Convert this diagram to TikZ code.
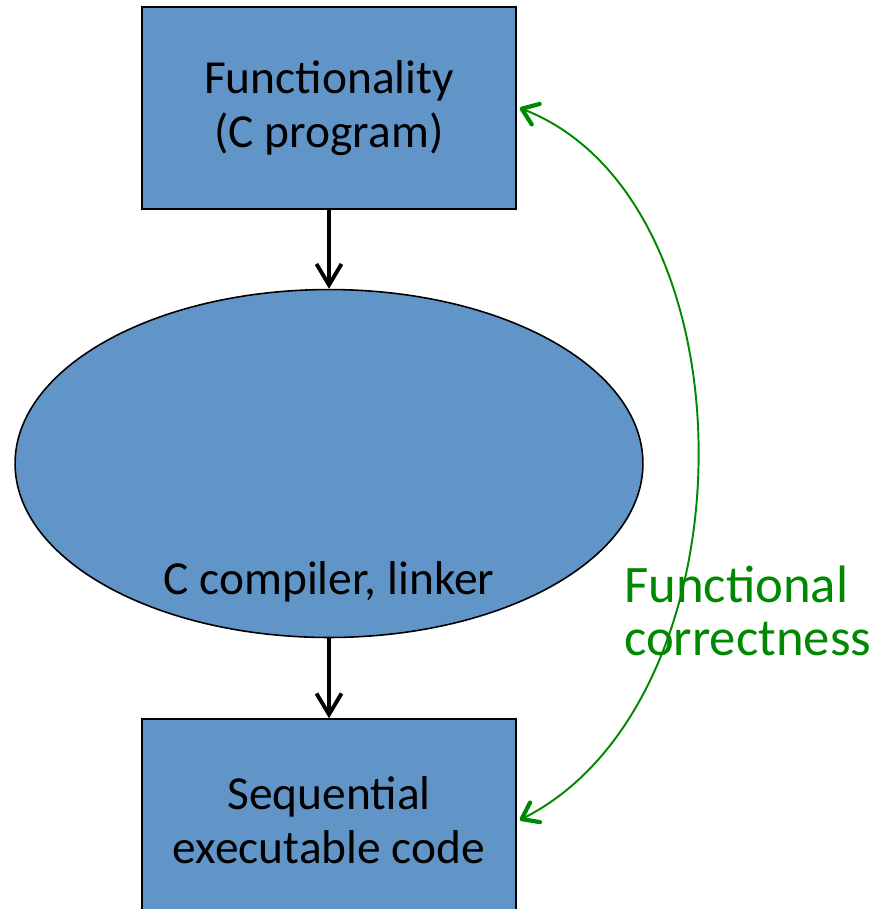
\documentclass[tikz,border=0pt]{standalone}
\usepackage{fontspec}
\setmainfont{Carlito}
\usetikzlibrary{calc,positioning,shapes.geometric,arrows.meta}
\definecolor{flowblue}{RGB}{97,149,200}
\definecolor{flowgreen}{RGB}{0,136,0}
\tikzset{
 flow box/.style={rectangle,draw=black,fill=flowblue,line width=.9pt,
                  minimum width=7.48cm,minimum height=4.04cm,align=center,
                  font=\fontsize{27}{31}\selectfont},
 flow tool/.style={ellipse,draw=black,fill=flowblue,line width=.9pt,
                   minimum width=12.56cm,minimum height=6.96cm,inner sep=0pt},
 flow label/.style={font=\fontsize{27}{31}\selectfont},
 flow step/.style={line width=2.2pt,
                   -{Straight Barb[length=.42cm,width=.5cm]}},
 flow check/.style={flowgreen,line width=1.1pt,
                    {Straight Barb[length=.3cm,width=.44cm,line width=2.4pt,round]}-{Straight Barb[length=.3cm,width=.44cm,line width=2.4pt,round]}},
 flow check label/.style={text=flowgreen,align=left,
                          font=\fontsize{30}{30.5}\selectfont}
}
\begin{document}
\begin{tikzpicture}[x=.02cm,y=-.02cm]
 \clip (0,0) rectangle (876,909);
 % design flow
 \node[flow box] (func) at (329,108) {Functionality\\(C program)};
 \node[flow tool,below=1.58cm of func] (comp) {};
 \node[flow label] (complabel) at ($(comp.south)+(0,-56)$) {C compiler, linker};
 \node[flow box,below=1.6cm of comp] (seq) {Sequential\\executable code};
 \draw[flow step] (func) -- (comp);
 \draw[flow step] (comp) -- (seq);
 % check
 \draw[flow check] ([xshift=.06cm]func.east) .. controls (757,200) and (757,700)
   .. ([xshift=.06cm]seq.east);
 \node[flow check label,anchor=west] (checktext) at (618,611) {Functional\\correctness};
\end{tikzpicture}
\end{document}
